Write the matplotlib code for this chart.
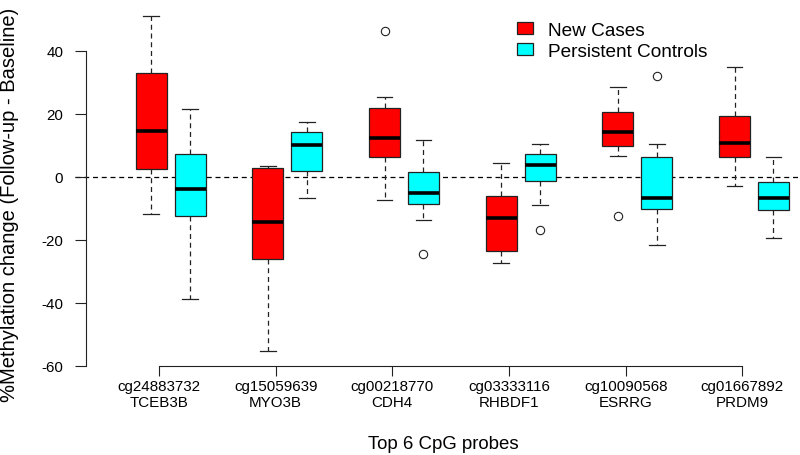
import matplotlib
matplotlib.use("Agg")
import matplotlib.pyplot as plt
from matplotlib.patches import Patch

plt.rcParams['font.family'] = ['Liberation Sans', 'DejaVu Sans']

# ---- data ----
probes = ["cg24883732", "cg15059639", "cg00218770", "cg03333116", "cg10090568", "cg01667892"]
genes = ["TCEB3B", "MYO3B", "CDH4", "RHBDF1", "ESRRG", "PRDM9"]

new_lo = [-11.7, -55.3, -7.5, -27.3, 6.7, -3.0]
new_q1 = [2.3, -26.2, 6.3, -23.7, 9.8, 6.3]
new_med = [14.4, -14.5, 12.2, -13.1, 14.1, 10.7]
new_q3 = [32.9, 2.8, 21.7, -6.2, 20.5, 19.2]
new_hi = [51.0, 3.5, 25.4, 4.2, 28.5, 34.8]
new_out = [[], [], [46.2], [], [-12.5], []]

ctl_lo = [-38.9, -6.9, -13.7, -8.9, -21.7, -19.5]
ctl_q1 = [-12.5, 1.8, -8.8, -1.5, -10.3, -10.6]
ctl_med = [-4.0, 10.0, -5.1, 3.8, -6.8, -6.7]
ctl_q3 = [7.1, 14.2, 1.5, 7.1, 6.3, -1.6]
ctl_hi = [21.6, 17.3, 11.7, 10.3, 10.3, 6.3]
ctl_out = [[], [], [-24.6], [-16.9], [31.9], []]

series_names = ["New Cases", "Persistent Controls"]
colors = ["#FF0000", "#00FFFF"]

y_ticks = [-60, -40, -20, 0, 20, 40]


def make_stats(lo, q1, med, q3, hi, out):
    return [dict(whislo=a, q1=b, med=c, q3=d, whishi=e, fliers=f)
            for a, b, c, d, e, f in zip(lo, q1, med, q3, hi, out)]


stats_new = make_stats(new_lo, new_q1, new_med, new_q3, new_hi, new_out)
stats_ctl = make_stats(ctl_lo, ctl_q1, ctl_med, ctl_q3, ctl_hi, ctl_out)

n = len(probes)
pos_new = [1 + 3 * i for i in range(n)]
pos_ctl = [2 + 3 * i for i in range(n)]
tick_pos = [1.2 + 3 * i for i in range(n)]

fig = plt.figure(figsize=(8, 4.56), dpi=100)
ax = fig.add_axes([74.5 / 800, 1 - 366.5 / 456, 725.5 / 800, 366.5 / 456])

ax.axhline(0, color="black", lw=0.9, ls=(0, (4, 3)), zorder=0)

dash = (0, (4, 3))
for stats, pos, col in [(stats_new, pos_new, colors[0]), (stats_ctl, pos_ctl, colors[1])]:
    ax.bxp(stats, positions=pos, widths=0.8, patch_artist=True,
           showfliers=True,
           boxprops=dict(facecolor=col, edgecolor="#222222", linewidth=0.9),
           medianprops=dict(color="black", linewidth=2.6, solid_capstyle="butt"),
           whiskerprops=dict(color="#222222", linewidth=0.9, linestyle=dash),
           capprops=dict(color="#222222", linewidth=0.9),
           capwidths=0.4,
           flierprops=dict(marker="o", markerfacecolor="none", markeredgecolor="#222222",
                           markersize=6, markeredgewidth=0.8),
           manage_ticks=False)

ax.set_xlim(1 - 76.7 / 38.89, 1 - 76.7 / 38.89 + 725.5 / 38.89)
ax.set_ylim(-60, 177.7 / 3.147)

for s in ["top", "right"]:
    ax.spines[s].set_visible(False)
ax.spines["left"].set_position(("data", 1 - 65.7 / 38.89))
ax.spines["left"].set_bounds(-60, 40)
ax.spines["bottom"].set_bounds(tick_pos[0], tick_pos[-1])
for s in ["left", "bottom"]:
    ax.spines[s].set_linewidth(0.8)
    ax.spines[s].set_color("#222222")

ax.set_yticks(y_ticks)
ax.set_yticklabels([str(v) for v in y_ticks])
ax.set_xticks(tick_pos)
ax.set_xticklabels([p + "\n" + g for p, g in zip(probes, genes)])
ax.tick_params(axis="y", length=7.8, width=0.8, pad=8.2, labelsize=10.9, color="#222222")
ax.tick_params(axis="x", length=7.5, width=0.8, pad=2.0, labelsize=10.9, color="#222222")

fig.text(9.5 / 800, 1 - 205 / 456, "%Methylation change (Follow-up - Baseline)",
         rotation=90, ha="center", va="center", fontsize=14.5)
fig.text(443 / 800, 1 - 445 / 456, "Top 6 CpG probes", ha="center", va="center", fontsize=13.4)

handles = [Patch(facecolor=c, edgecolor="#222222", linewidth=0.9) for c in colors]
ax.legend(handles, series_names, loc="upper left",
          bbox_to_anchor=(517 / 800, 1 - 23 / 456), bbox_transform=fig.transFigure,
          frameon=False, borderpad=0, borderaxespad=0, handlelength=0.82,
          handleheight=0.62, handletextpad=0.82, labelspacing=0.2, fontsize=13.7)

fig.savefig("out.png", dpi=100)
